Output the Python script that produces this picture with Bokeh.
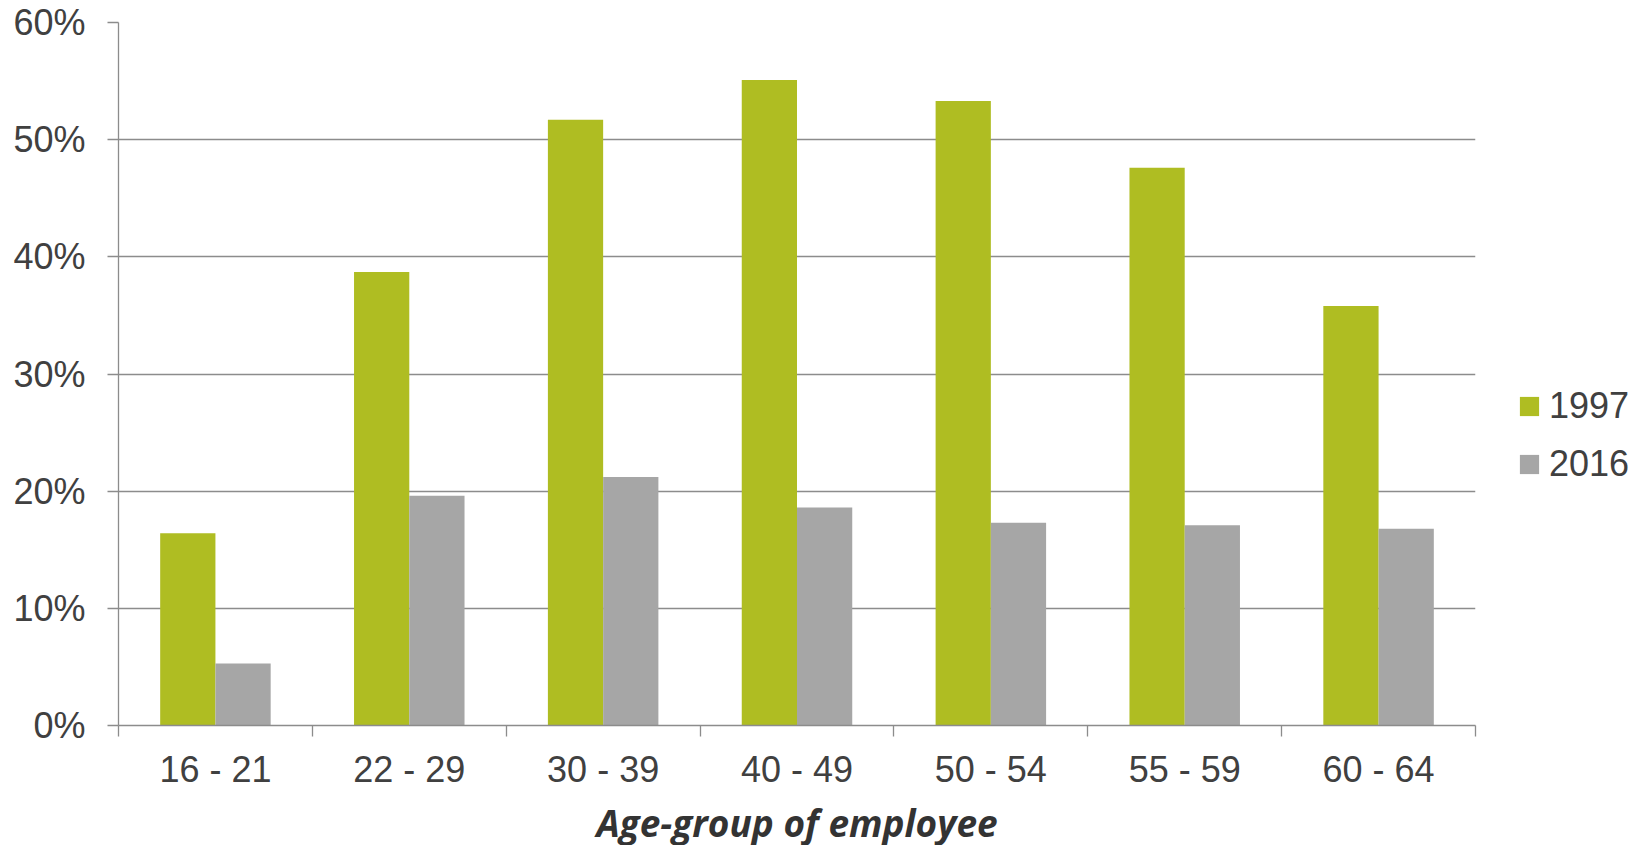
from bokeh.plotting import figure
from bokeh.models import (FixedTicker, NumeralTickFormatter, Legend, LegendItem,
                          ColumnDataSource, Range1d)
from bokeh.embed import file_html
from bokeh.resources import INLINE

age_groups = ["16 - 21", "22 - 29", "30 - 39", "40 - 49", "50 - 54", "55 - 59", "60 - 64"]
share_1997 = [0.164, 0.387, 0.517, 0.551, 0.533, 0.476, 0.358]
share_2016 = [0.053, 0.196, 0.212, 0.186, 0.173, 0.171, 0.168]
series_names = ["1997", "2016"]
y_ticks = [0, 0.1, 0.2, 0.3, 0.4, 0.5, 0.6]
x_title = "Age-group of employee"

GREEN = "#AFBD22"
GRAY = "#A6A6A6"
LINE = "#8C8C8C"
TEXT = "#404040"

xs = list(range(len(age_groups)))
bar_w = 0.285
src = ColumnDataSource(dict(
    x1=[i - bar_w / 2 for i in xs],
    x2=[i + bar_w / 2 for i in xs],
    y1=share_1997,
    y2=share_2016,
))

p = figure(frame_width=1357, frame_height=703,
           x_range=Range1d(-0.5, len(age_groups) - 0.5), y_range=Range1d(0, 0.6),
           output_backend="svg", toolbar_location=None,
           min_border_left=118, min_border_top=22, min_border_right=170,
           min_border_bottom=120)
p.outline_line_color = None
p.background_fill_color = "white"
p.border_fill_color = "white"

r1 = p.vbar(x="x1", top="y1", width=bar_w, bottom=0, source=src,
            fill_color=GREEN, line_color=None)
r2 = p.vbar(x="x2", top="y2", width=bar_w, bottom=0, source=src,
            fill_color=GRAY, line_color=None)

# grid
p.xgrid.grid_line_color = None
p.ygrid.grid_line_color = LINE
p.ygrid.grid_line_width = 1.3
p.ygrid.ticker = FixedTicker(ticks=y_ticks)

# y axis
ya = p.yaxis[0]
ya.ticker = FixedTicker(ticks=y_ticks)
ya.formatter = NumeralTickFormatter(format="0%")
ya.axis_line_color = LINE
ya.axis_line_width = 1.3
ya.major_tick_line_color = LINE
ya.major_tick_line_width = 1.3
ya.major_tick_out = 11
ya.major_tick_in = 0
ya.minor_tick_line_color = None
ya.major_label_text_font = "Liberation Sans"
ya.major_label_text_font_size = "36px"
ya.major_label_text_color = TEXT
ya.major_label_standoff = 22

# x axis
xa = p.xaxis[0]
xa.ticker = FixedTicker(ticks=xs, minor_ticks=[i - 0.5 for i in range(len(age_groups) + 1)])
xa.major_label_overrides = {i: lab for i, lab in zip(xs, age_groups)}
xa.axis_line_color = LINE
xa.axis_line_width = 1.3
xa.major_tick_line_color = None
xa.major_tick_out = 0
xa.major_tick_in = 0
xa.minor_tick_line_color = LINE
xa.minor_tick_line_width = 1.3
xa.minor_tick_out = 11
xa.minor_tick_in = 0
xa.major_label_text_font = "Liberation Sans"
xa.major_label_text_font_size = "36px"
xa.major_label_text_color = TEXT
xa.major_label_standoff = 12
xa.axis_label = x_title
xa.axis_label_text_font = "Open Sans"
xa.axis_label_text_font_style = "bold italic"
xa.axis_label_text_font_size = "37px"
xa.axis_label_text_color = "#333333"
xa.axis_label_standoff = 4

legend = Legend(items=[LegendItem(label=series_names[0], renderers=[r1]),
                       LegendItem(label=series_names[1], renderers=[r2])],
                location=(42, 240), orientation="vertical",
                glyph_width=24, glyph_height=24, label_standoff=8,
                label_text_font="Liberation Sans", label_text_font_size="36px",
                label_text_color=TEXT, spacing=16, padding=0, margin=0,
                border_line_color=None, background_fill_alpha=0)
p.add_layout(legend, "right")

open("out.html", "w").write(file_html(p, INLINE))
